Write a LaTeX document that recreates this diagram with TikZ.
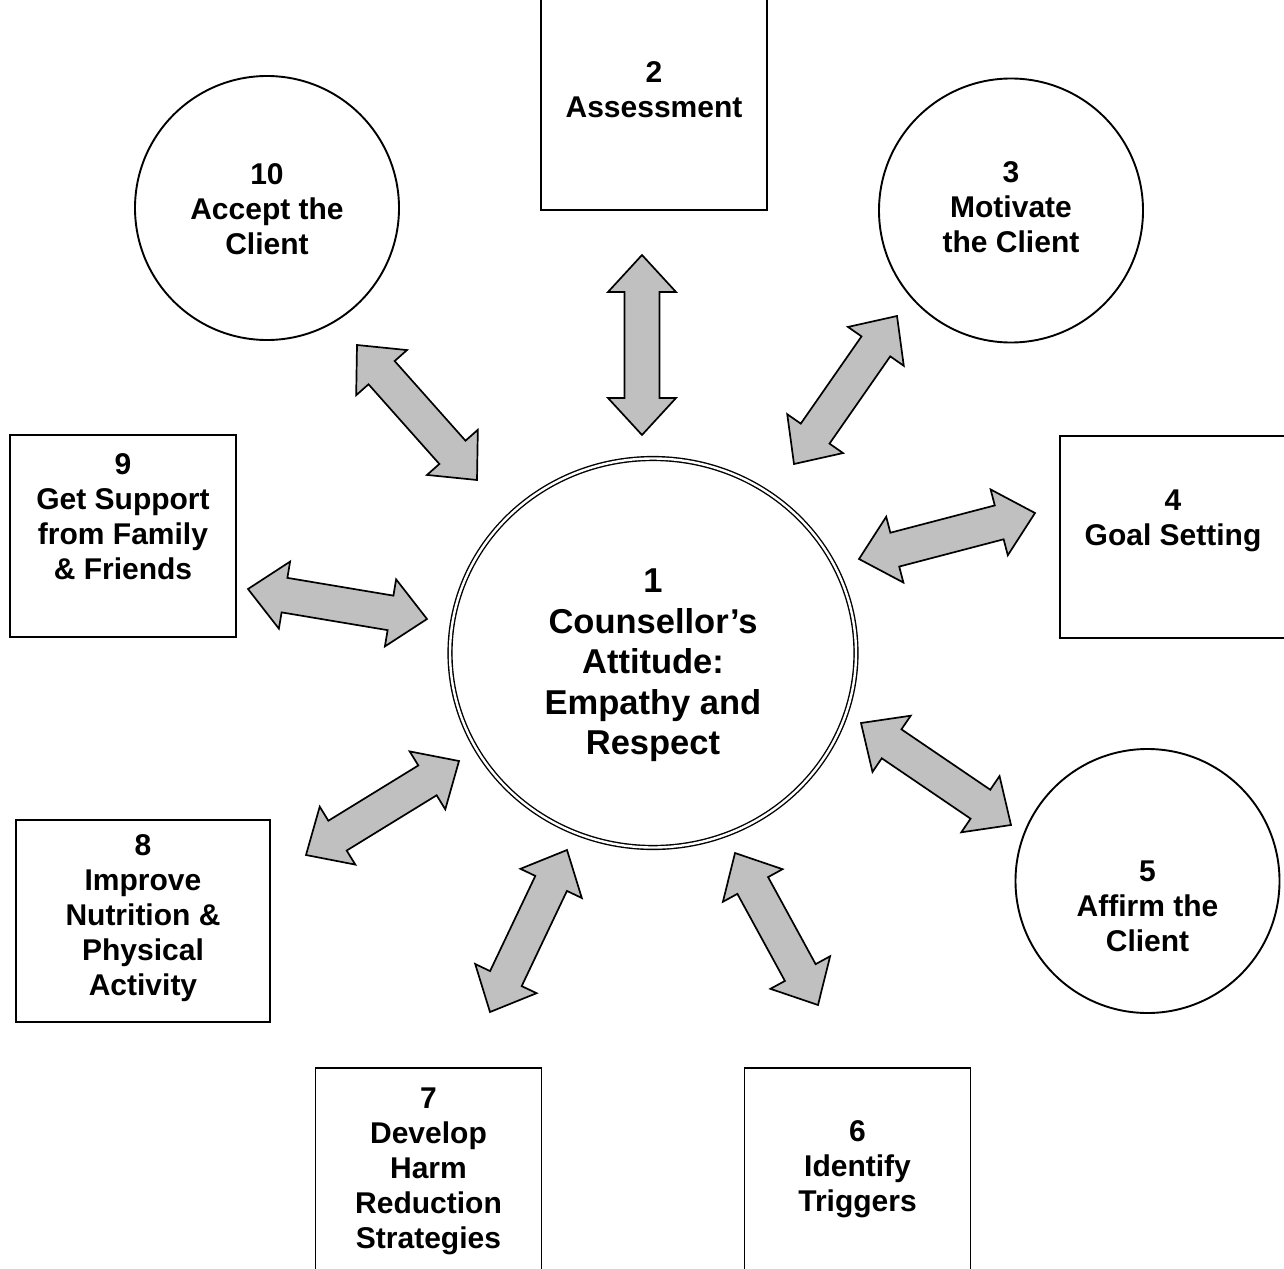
\documentclass[tikz,border=0pt]{standalone}
\usepackage{fontspec}
\setmainfont{Liberation Sans}
\usetikzlibrary{shapes.geometric, calc}

\definecolor{arrowgray}{RGB}{192,192,192}

\newcommand{\dblarrow}[2]{%
  \path ($(#1)!37pt!(#2)$) coordinate (h1) ($(#2)!37pt!(#1)$) coordinate (h2);
  \draw[arrowbody] (#1) -- ($(h1)!34pt!90:(#2)$) -- ($(h1)!17.5pt!90:(#2)$)
    -- ($(h2)!17.5pt!-90:(#1)$) -- ($(h2)!34pt!-90:(#1)$) -- (#2)
    -- ($(h2)!34pt!90:(#1)$) -- ($(h2)!17.5pt!90:(#1)$)
    -- ($(h1)!17.5pt!-90:(#2)$) -- ($(h1)!34pt!-90:(#2)$) -- cycle;}

\begin{document}
\begin{tikzpicture}[x=1pt, y=-1pt, line width=1.9pt,
    box/.style={draw, rectangle, minimum width=226pt, minimum height=202pt},
    disc/.style={draw, circle, minimum size=264pt},
    lbl/.style={align=center, anchor=north, inner sep=0pt,
      font=\bfseries\fontsize{30}{35}\selectfont},
    biglbl/.style={lbl, font=\bfseries\fontsize{34.5}{40.5}\selectfont},
    arrowbody/.style={draw, fill=arrowgray, line width=1.7pt}]
  \useasboundingbox (0,0) rectangle (1284,1268);
  \clip (0,0) rectangle (1284,1268);

  \node[draw, ellipse, double, double distance=2.4pt, line width=1.4pt,
        minimum width=406pt, minimum height=389pt] (n1) at (653,653) {};
  \node[box, minimum height=242pt] (n2) at (654,89) {};
  \node[disc] (n3) at (1011,210.5) {};
  \node[box] (n4) at (1173,537) {};
  \node[disc] (n5) at (1147.5,881) {};
  \node[box] (n6) at (857.5,1169) {};
  \node[box] (n7) at (428.5,1169) {};
  \node[box, minimum width=254pt] (n8) at (143,921) {};
  \node[box] (n9) at (123,536) {};
  \node[disc] (n10) at (267,208) {};

  \node[biglbl] (t1) at (653,568) {1\\Counsellor’s\\Attitude:\\Empathy and\\Respect};
  \node[lbl] (t2) at (654,61) {2\\Assessment};
  \node[lbl] (t3) at (1011,161) {3\\Motivate\\the Client};
  \node[lbl] (t4) at (1173,489) {4\\Goal Setting};
  \node[lbl] (t5) at (1147.5,860) {5\\Affirm the\\Client};
  \node[lbl] (t6) at (857.5,1120) {6\\Identify\\Triggers};
  \node[lbl] (t7) at (428.5,1087) {7\\Develop\\Harm\\Reduction\\Strategies};
  \node[lbl] (t8) at (143,834) {8\\Improve\\Nutrition \&\\Physical\\Activity};
  \node[lbl] (t9) at (123,453) {9\\Get Support\\from Family\\\& Friends};
  \node[lbl] (t10) at (267,163) {10\\Accept the\\Client};

  \coordinate (c2) at (642,435);  \coordinate (e2) at (642,255);
  \coordinate (c3) at (794,464);  \coordinate (e3) at (897,316);
  \coordinate (c4) at (859,559);  \coordinate (e4) at (1035,513);
  \coordinate (c5) at (861,723);  \coordinate (e5) at (1011,825);
  \coordinate (c6) at (735,853);  \coordinate (e6) at (818,1005);
  \coordinate (c7) at (567,850);  \coordinate (e7) at (490,1012);
  \coordinate (c8) at (459,761);  \coordinate (e8) at (306,855);
  \coordinate (c9) at (427,619);  \coordinate (e9) at (248,589);
  \coordinate (c10) at (477,480); \coordinate (e10) at (357,345);

  \foreach \i in {2,...,10} {\dblarrow{c\i}{e\i}}
\end{tikzpicture}
\end{document}
